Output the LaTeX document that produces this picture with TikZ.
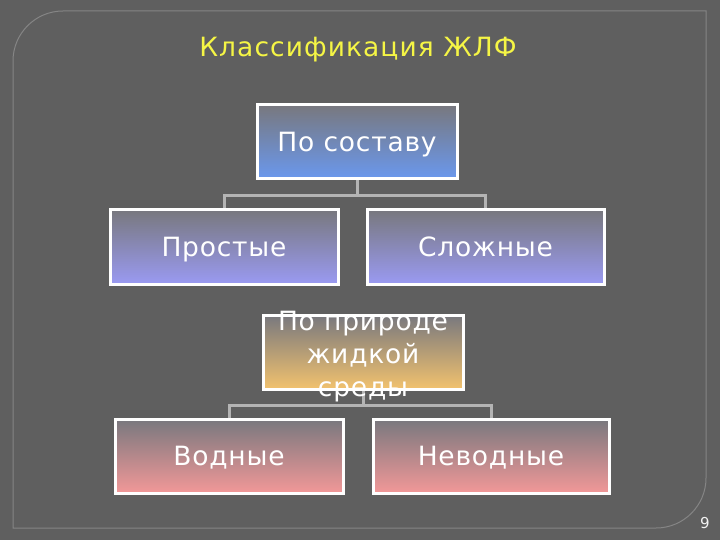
\documentclass[tikz,border=0pt]{standalone}
\usepackage{fontspec}
\setmainfont{DejaVu Sans}
\usetikzlibrary{backgrounds}
\definecolor{bg}{HTML}{5F5F5F}
\definecolor{framec}{HTML}{858585}
\definecolor{conn}{HTML}{B4B4B4}
\definecolor{ttl}{HTML}{F5F545}
\definecolor{topg}{HTML}{78787E}
\definecolor{blueb}{HTML}{6A98EE}
\definecolor{lavb}{HTML}{9A9AF2}
\definecolor{orab}{HTML}{F2C26E}
\definecolor{pinkb}{HTML}{F29898}
\newcommand{\boxfont}{\fontsize{26.5}{33}\selectfont\addfontfeatures{LetterSpace=3}}
\tikzset{
  box/.style={draw=white, line width=3pt, minimum width=#1, minimum height=74pt, inner sep=0pt,
    text=white, font=\boxfont, text height=24pt, text depth=5pt},
  connline/.style={draw=conn, line width=3pt},
}
\begin{document}
\begin{tikzpicture}[x=1pt,y=-1pt]
\useasboundingbox (0,0) rectangle (720,540);
\node[text=ttl, font=\fontsize{26.5}{30}\selectfont\addfontfeatures{LetterSpace=4}] (title) at (358,50) {Классификация ЖЛФ};
\node[box=200pt, top color=topg, bottom color=blueb] (n1) at (357,142) {По составу};
\node[box=228pt, top color=topg, bottom color=lavb] (simple) at (224,247) {Простые};
\node[box=237pt, top color=topg, bottom color=lavb] (complex) at (485.5,247) {Сложные};
\node[box=200pt, top color=topg, bottom color=orab] (n2) at (363,352) {};
\node[box=228pt, top color=topg, bottom color=pinkb] (water) at (229,456) {Водные};
\node[box=236pt, top color=topg, bottom color=pinkb] (nonwater) at (491,456) {Неводные};
\begin{scope}[on background layer]
\fill[bg] (0,0) rectangle (720,540);
\draw[framec, line width=1pt] (13,528) -- (13,61) .. controls (13,33.4) and (35.4,11) .. (63,11)
  -- (706,11) -- (706,478) .. controls (706,505.6) and (683.6,528) .. (656,528) -- cycle;
\draw[connline] (n1.south) -- ++(0,15) -| (simple.north);
\draw[connline] (n1.south) -- ++(0,15) -| (complex.north);
\draw[connline] (n2.south) -- ++(0,15) -| (water.north);
\draw[connline] (n2.south) -- ++(0,15) -| (nonwater.north);
\end{scope}
\node[text=white, align=center, font=\boxfont] (n2t) at ([yshift=-5pt]n2.center) {По природе\\жидкой\\среды};
\node[text=white!90!gray, font=\fontsize{15}{18}\selectfont] (page) at (705,523) {9};
\end{tikzpicture}
\end{document}
